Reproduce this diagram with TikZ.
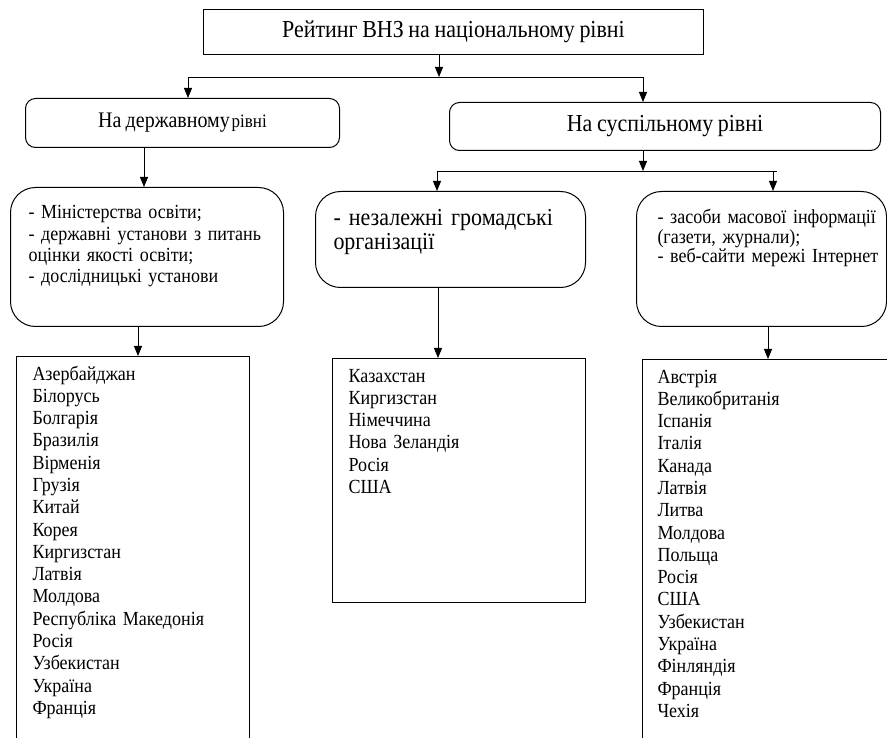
\documentclass[tikz,border=0pt]{standalone}
\usepackage{fontspec}
\setmainfont{Liberation Serif}[FakeStretch=0.9,WordSpace=0.85]
\usetikzlibrary{arrows.meta}

\begin{document}
\begin{tikzpicture}[x=1pt,y=-1pt,
	box/.style={draw,line width=1pt,inner sep=0pt,anchor=north west},
	rbox/.style={box,rounded corners=10pt},
	tbox/.style={box,rounded corners=25pt,align=left,inner xsep=18pt},
	lbox/.style={box,align=left,inner xsep=16pt,text height=23.5pt,font=\fontsize{20}{22.3}\selectfont},
	arr/.style={line width=0.9pt,-{Triangle[width=8pt,length=10pt]}},
	lnk/.style={line width=0.9pt}]
		% Frame
		\useasboundingbox (0,0) rectangle (887,738);
		\clip (0,0) rectangle (887,738);
		
		% Top level
		\node[box,minimum width=500pt,minimum height=45pt,font=\fontsize{24.4}{28}\selectfont] (rating) at (203,9) {Рейтинг ВНЗ на національному рівні};
		
		% Second level
		\node[rbox,minimum width=314pt,minimum height=49pt] (state) at (25,98) {{\fontsize{22.2}{26}\selectfont На державному} {\fontsize{18.9}{22}\selectfont рівні}};
		\node[rbox,minimum width=431pt,minimum height=48pt,font=\fontsize{24.4}{28}\selectfont] (public) at (449,102) {На суспільному рівні};
		
		% Third level
		\node[tbox,text width=237pt,text height=31.5pt,text depth=107.5pt,font=\fontsize{20}{21.3}\selectfont] (ministry) at (10,187) {- Міністерства освіти;\\- державні установи з питань\\оцінки якості освіти;\\- дослідницькі установи};
		\node[tbox,text width=234pt,text height=34.5pt,text depth=61.5pt,font=\fontsize{24.4}{24}\selectfont] (ngo) at (315,191) {- незалежні громадські\\організації};
		\node[tbox,inner xsep=21pt,text width=208pt,text height=32.5pt,text depth=102.5pt,font=\fontsize{20}{19.5}\selectfont] (media) at (636,191) {\mbox{- засоби масової інформації}\\(газети, журнали);\\\mbox{- веб-сайти мережі Інтернет}};
		
		% Country lists
		\node[lbox,text width=201pt,text depth=380pt] (statelist) at (16,356) {Азербайджан\\Білорусь\\Болгарія\\Бразилія\\Вірменія\\Грузія\\Китай\\Корея\\Киргизстан\\Латвія\\Молдова\\Республіка Македонія\\Росія\\Узбекистан\\Україна\\Франція};
		\node[lbox,text width=221pt,text depth=220.5pt] (ngolist) at (332,358) {Казахстан\\Киргизстан\\Німеччина\\Нова Зеландія\\Росія\\США};
		\node[lbox,inner xsep=15pt,text width=240pt,text depth=380pt] (medialist) at (642,359) {Австрія\\Великобританія\\Іспанія\\Італія\\Канада\\Латвія\\Литва\\Молдова\\Польща\\Росія\\США\\Узбекистан\\Україна\\Фінляндія\\Франція\\Чехія};
		
		% Junction points
		\coordinate (top) at (439,77);
		\coordinate (topL) at (188,77);
		\coordinate (topR) at (643,77);
		\coordinate (mid) at (643,171);
		\coordinate (midL) at (437,171);
		\coordinate (midR) at (777,171);
		\coordinate (midM) at (773,171);
		\coordinate (sx) at (144,0);
		\coordinate (mx) at (138,0);
		\coordinate (nx) at (438,0);
		\coordinate (ex) at (768,0);
		
		% Draw connectors
		\draw[arr] (rating.south -| top) -- (top);
		\draw[lnk] (topL) -- (topR);
		\draw[arr] (topL) -- (state.north -| topL);
		\draw[arr] (topR) -- (public.north -| topR);
		\draw[arr] (state.south -| sx) -- (ministry.north -| sx);
		\draw[arr] (public.south -| mid) -- (mid);
		\draw[lnk] (midL) -- (midR);
		\draw[arr] (midL) -- (ngo.north -| midL);
		\draw[arr] (midM) -- (media.north -| midM);
		\draw[arr] (ministry.south -| mx) -- (statelist.north -| mx);
		\draw[arr] (ngo.south -| nx) -- (ngolist.north -| nx);
		\draw[arr] (media.south -| ex) -- (medialist.north -| ex);
		
	\end{tikzpicture}
\end{document}
